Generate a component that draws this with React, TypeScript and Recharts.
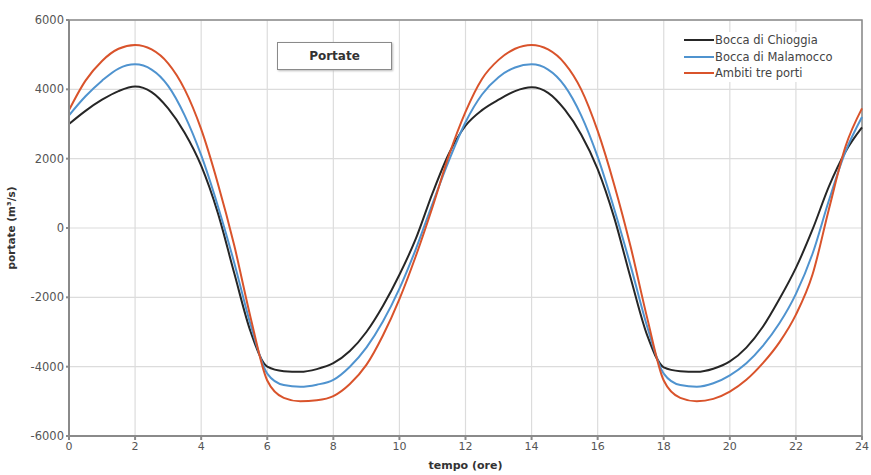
import React from 'react';
import {
  LineChart,
  Line,
  XAxis,
  YAxis,
  CartesianGrid,
  ReferenceArea,
  Label
} from 'recharts';

// tempo (ore), ogni mezz'ora
const hours = [
  0, 0.5, 1, 1.5, 2, 2.5, 3, 3.5, 4, 4.5, 5, 5.5, 6, 6.5, 7, 7.5, 8, 8.5, 9, 9.5, 10, 10.5, 11, 11.5,
  12, 12.5, 13, 13.5, 14, 14.5, 15, 15.5, 16, 16.5, 17, 17.5, 18, 18.5, 19, 19.5, 20, 20.5, 21, 21.5, 22, 22.5, 23, 23.5, 24
];

// portate (m3/s)
const chioggia = [
  3000, 3380, 3700, 3950, 4080, 3920, 3450, 2750, 1800, 450, -1300, -3000, -4000, -4130, -4150, -4070, -3900, -3550, -3000, -2250, -1350, -300, 1000, 2150,
  2950, 3400, 3700, 3950, 4060, 3900, 3420, 2700, 1700, 300, -1450, -3100, -4020, -4130, -4150, -4060, -3850, -3450, -2850, -2050, -1150, -50, 1200, 2200, 2900
];
const malamocco = [
  3250, 3800, 4250, 4600, 4720, 4570, 4100, 3250, 2100, 650, -1000, -2800, -4200, -4530, -4580, -4520, -4380, -4000, -3450, -2700, -1750, -600, 700, 1950,
  3050, 3850, 4350, 4630, 4720, 4570, 4100, 3250, 2050, 550, -1100, -2850, -4200, -4530, -4580, -4480, -4250, -3900, -3400, -2750, -1900, -750, 800, 2200, 3200
];
const treporti = [
  3400, 4250, 4820, 5170, 5280, 5150, 4750, 4000, 2850, 1300, -500, -2600, -4400, -4900, -5000, -4970, -4850, -4500, -3950, -3100, -2050, -800, 600, 2100,
  3350, 4300, 4850, 5170, 5280, 5150, 4750, 4000, 2800, 1250, -550, -2600, -4400, -4900, -5000, -4930, -4720, -4380, -3900, -3300, -2500, -1350, 550, 2350, 3450
];

const xTicks = [0, 2, 4, 6, 8, 10, 12, 14, 16, 18, 20, 22, 24];
const yTicks = [-6000, -4000, -2000, 0, 2000, 4000, 6000];

const series = [
  { key: 'chioggia', name: 'Bocca di Chioggia', color: '#262626' },
  { key: 'malamocco', name: 'Bocca di Malamocco', color: '#4f93cf' },
  { key: 'treporti', name: 'Ambiti tre porti', color: '#d9532b' }
];

const data = hours.map((t, i) => ({
  t,
  chioggia: chioggia[i],
  malamocco: malamocco[i],
  treporti: treporti[i]
}));

const font = '"DejaVu Sans", Verdana, sans-serif';

export default function App() {
  return (
    <div style={{ position: 'absolute', left: 0, top: 0, width: 871, height: 475, background: '#fff', fontFamily: font }}>
      <LineChart
        width={871}
        height={475}
        data={data}
        margin={{ top: 20, right: 9, left: 0, bottom: 9 }}
      >
        <CartesianGrid stroke="#dcdcdc" strokeWidth={1.2} />
        <XAxis
          dataKey="t"
          type="number"
          domain={[0, 24]}
          ticks={xTicks}
          height={30}
          stroke="#8a8a8a"
          strokeWidth={2}
          tickSize={4}
          tick={{ fontSize: 11, fill: '#555', fontFamily: font }}
        >
          <Label
            value="tempo (ore)"
            position="insideBottom"
            offset={-3}
            style={{ fontSize: 11, fontWeight: 'bold', fill: '#333', fontFamily: font }}
          />
        </XAxis>
        <YAxis
          type="number"
          domain={[-6000, 6000]}
          ticks={yTicks}
          width={69}
          stroke="#8a8a8a"
          strokeWidth={2}
          tickSize={3}
          tick={{ fontSize: 11.5, fill: '#555', fontFamily: font }}
        >
          <Label
            value="portate (m³/s)"
            angle={-90}
            position="insideLeft"
            offset={11}
            style={{ textAnchor: 'middle', fontSize: 10.5, fontWeight: 'bold', fill: '#333', fontFamily: font }}
          />
        </YAxis>
        <ReferenceArea x1={0} x2={24} y1={-6000} y2={6000} fill="none" stroke="#8a8a8a" strokeWidth={1.5} ifOverflow="visible" />
        {series.map((s) => (
          <Line
            key={s.key}
            type="monotone"
            dataKey={s.key}
            name={s.name}
            stroke={s.color}
            strokeWidth={2}
            dot={false}
            isAnimationActive={false}
          />
        ))}
      </LineChart>

      <div
        style={{
          position: 'absolute',
          left: 277,
          top: 42,
          width: 113,
          height: 26,
          border: '1.5px solid #8a8a8a',
          boxShadow: '1px 1px 2px #bbb',
          background: '#fff',
          display: 'flex',
          alignItems: 'center',
          justifyContent: 'center',
          fontSize: 12,
          fontWeight: 'bold',
          color: '#333'
        }}
      >
        Portate
      </div>

      <div style={{ position: 'absolute', left: 682, top: 32, background: '#fff', padding: '0 2px' }}>
        {series.map((s) => (
          <div key={s.key} style={{ display: 'flex', alignItems: 'center', height: 16.5, fontSize: 11.5, color: '#444' }}>
            <span style={{ display: 'inline-block', width: 30, height: 2, background: s.color, marginRight: 1 }} />
            {s.name}
          </div>
        ))}
      </div>
    </div>
  );
}
